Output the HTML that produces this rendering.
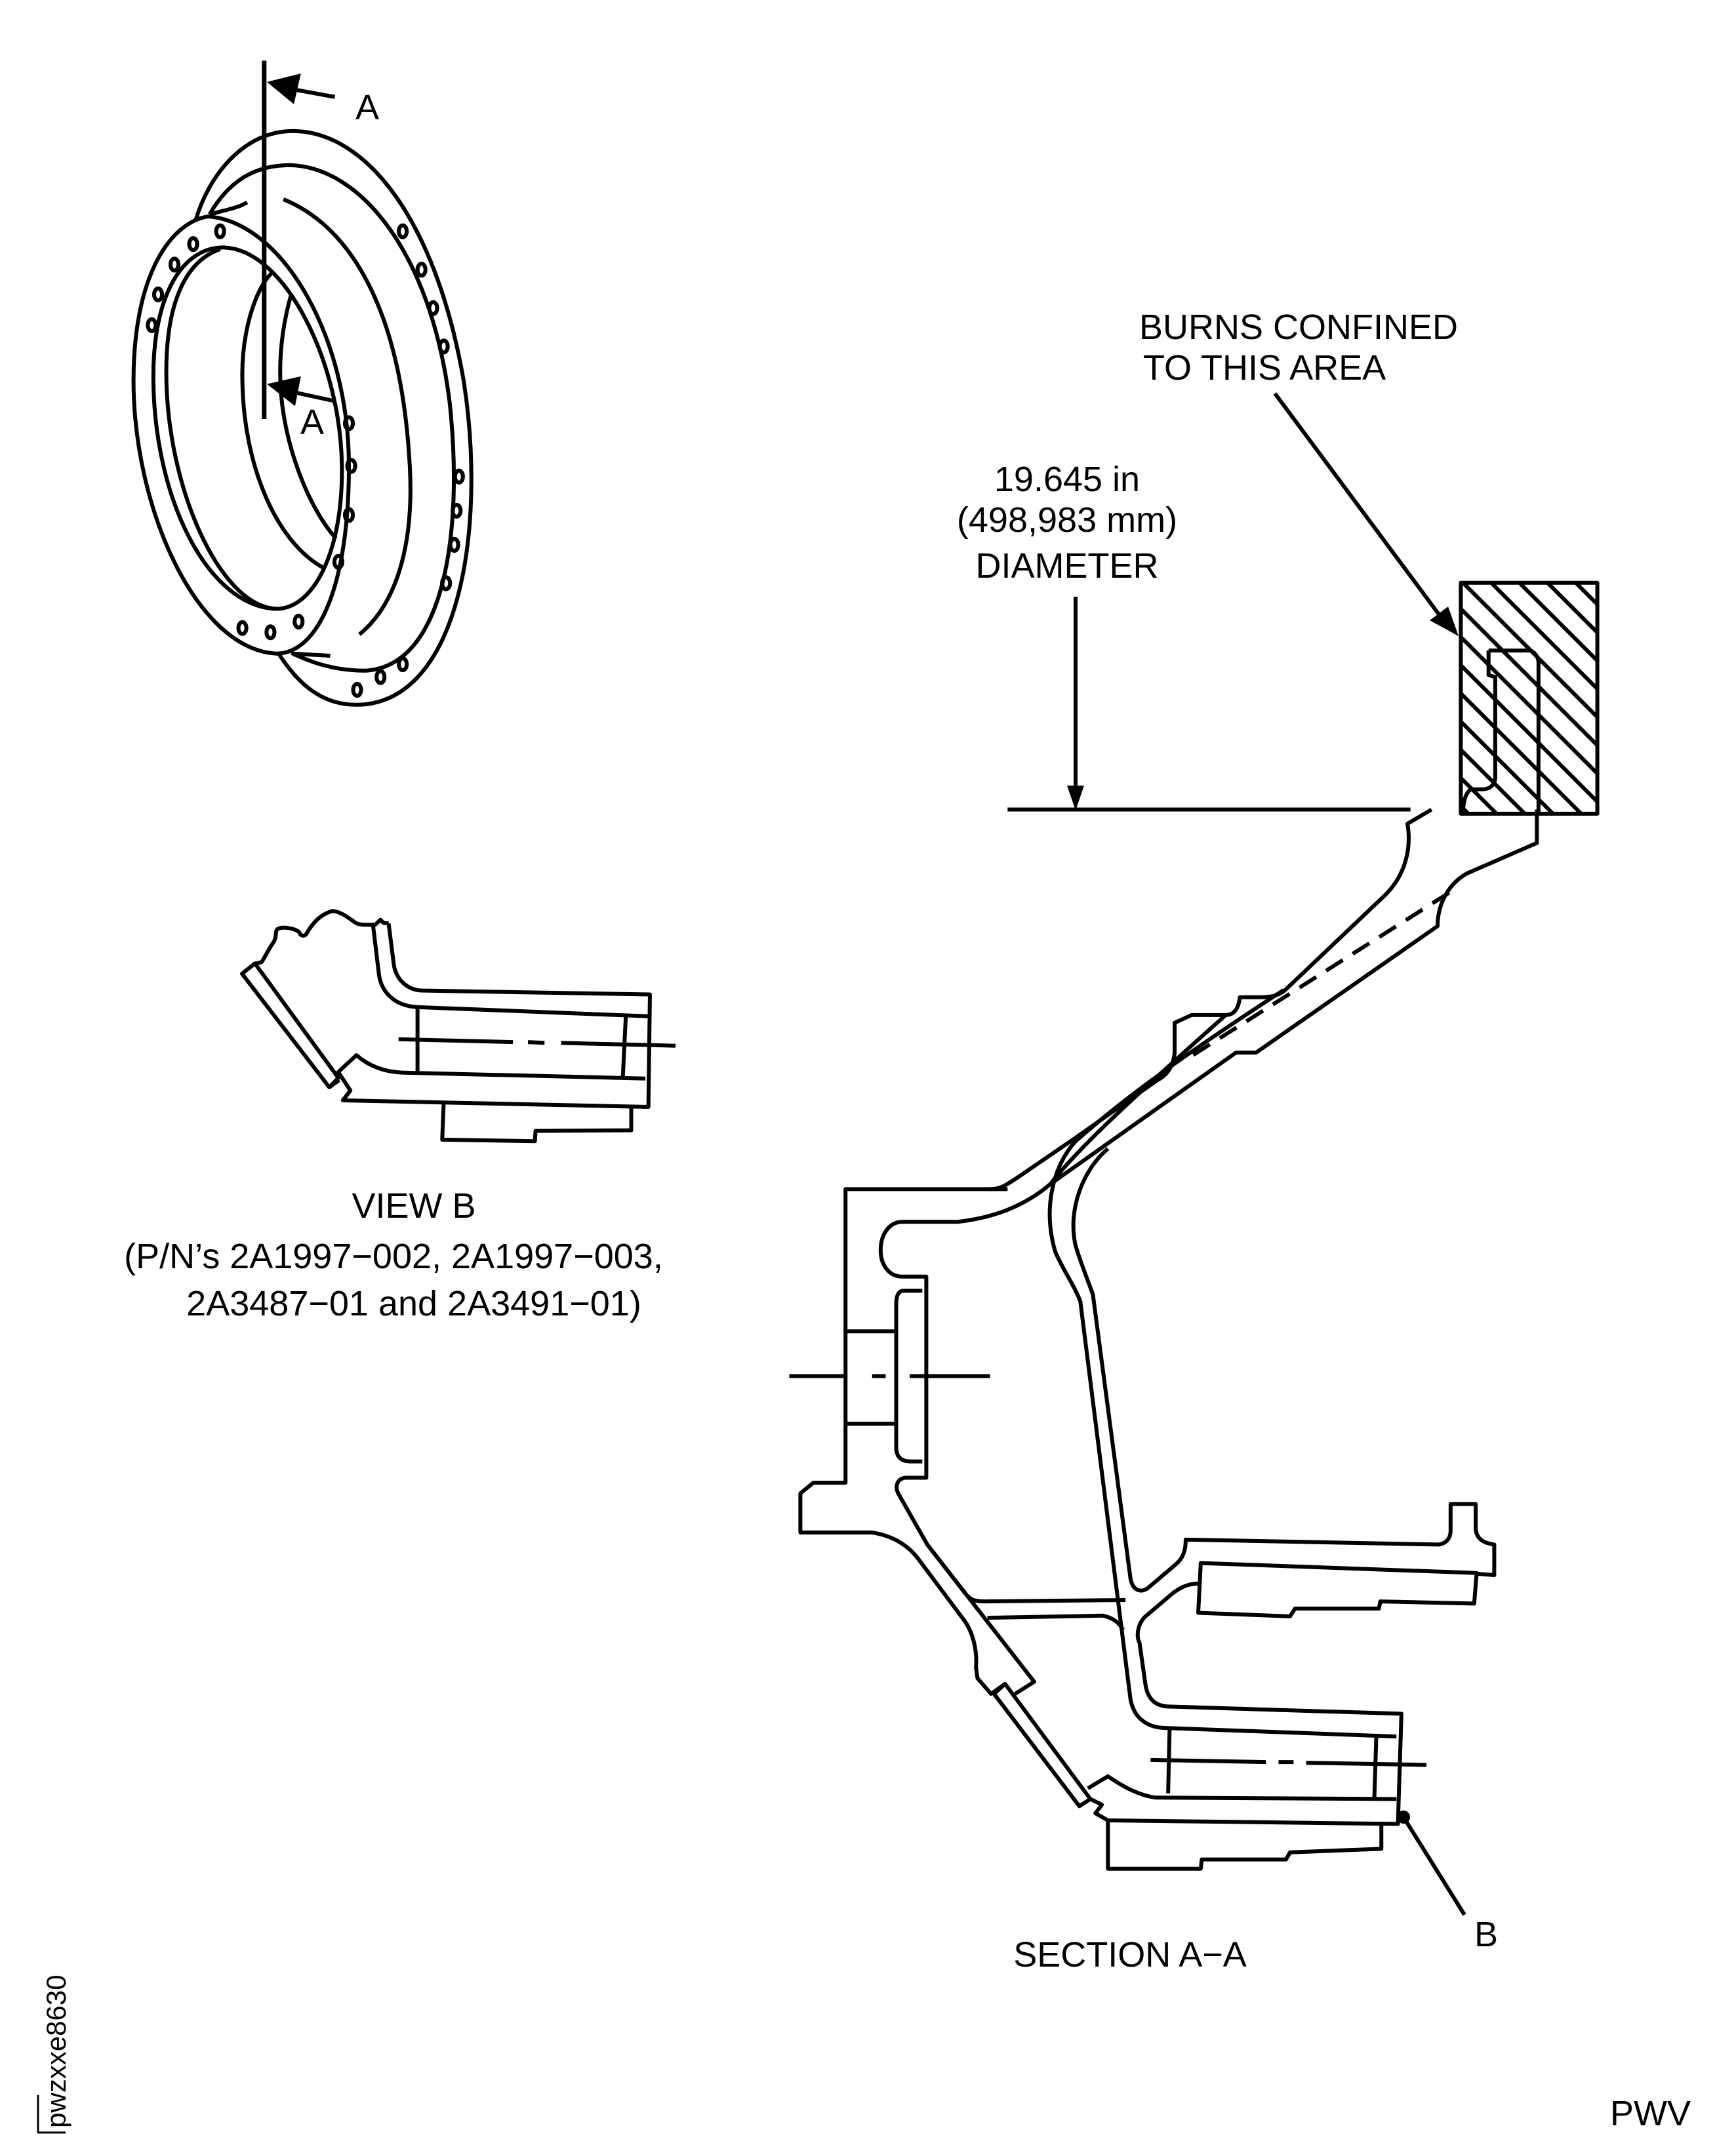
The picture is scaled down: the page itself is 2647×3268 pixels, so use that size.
<!DOCTYPE html>
<html><head><meta charset="utf-8">
<style>
html,body{margin:0;padding:0;background:#fff;}
svg{display:block;}
text{font-family:"Liberation Sans",Arial,sans-serif;fill:#000;}
</style></head>
<body>
<svg width="2647" height="3268" viewBox="0 0 2647 3268" xmlns="http://www.w3.org/2000/svg">
<defs>
<clipPath id="boxclip"><rect x="140" y="85" width="615" height="1040"/></clipPath>
</defs>
<g fill="none" stroke="#000" stroke-width="6" stroke-linejoin="round">

<g transform="translate(200,60) scale(0.357,0.6505)">
<path vector-effect="non-scaling-stroke" d="M275,425 C330,320 480,215 690,215 C1000,215 1300,420 1420,800 C1520,1150 1400,1560 960,1560 C800,1560 700,1500 630,1440"/>
<path vector-effect="non-scaling-stroke" d="M335,410 C420,330 530,295 680,295 C980,300 1280,500 1360,850 C1420,1150 1340,1470 1000,1480 C850,1480 750,1455 690,1440 L850,1445"/>
<path vector-effect="non-scaling-stroke" d="M650,375 C900,430 1150,600 1190,1000 C1210,1200 1120,1330 975,1395"/>
<path vector-effect="non-scaling-stroke" d="M330,415 C160,430 10,560 10,800 C10,1100 280,1430 620,1440 C800,1440 930,1280 930,1000 C930,700 650,430 330,415 Z"/>
<path vector-effect="non-scaling-stroke" d="M400,488 C220,485 90,600 95,800 C100,1080 330,1330 620,1335 C780,1335 905,1200 900,1000 C895,760 660,495 400,488 Z"/>
<path vector-effect="non-scaling-stroke" d="M380,492 C230,520 150,620 150,780 C150,1050 380,1330 620,1335"/>
<path vector-effect="non-scaling-stroke" d="M605,545 C520,590 470,700 475,800 C480,1000 620,1180 825,1240"/>
<path vector-effect="non-scaling-stroke" d="M685,595 C640,680 630,760 640,830 C660,960 760,1100 875,1170"/>
<path vector-effect="non-scaling-stroke" d="M340,410 C400,400 460,395 495,382"/>
<g>
<ellipse vector-effect="non-scaling-stroke" cx="380" cy="450" rx="17" ry="14"/>
<ellipse vector-effect="non-scaling-stroke" cx="265" cy="480" rx="17" ry="14"/>
<ellipse vector-effect="non-scaling-stroke" cx="185" cy="528" rx="17" ry="14"/>
<ellipse vector-effect="non-scaling-stroke" cx="115" cy="598" rx="17" ry="14"/>
<ellipse vector-effect="non-scaling-stroke" cx="88" cy="670" rx="17" ry="14"/>
<ellipse vector-effect="non-scaling-stroke" cx="930" cy="900" rx="17" ry="14"/>
<ellipse vector-effect="non-scaling-stroke" cx="940" cy="1000" rx="17" ry="14"/>
<ellipse vector-effect="non-scaling-stroke" cx="930" cy="1115" rx="17" ry="14"/>
<ellipse vector-effect="non-scaling-stroke" cx="885" cy="1225" rx="17" ry="14"/>
<ellipse vector-effect="non-scaling-stroke" cx="475" cy="1380" rx="17" ry="14"/>
<ellipse vector-effect="non-scaling-stroke" cx="595" cy="1390" rx="17" ry="14"/>
<ellipse vector-effect="non-scaling-stroke" cx="715" cy="1365" rx="17" ry="14"/>
<ellipse vector-effect="non-scaling-stroke" cx="1160" cy="450" rx="17" ry="14"/>
<ellipse vector-effect="non-scaling-stroke" cx="1240" cy="540" rx="17" ry="14"/>
<ellipse vector-effect="non-scaling-stroke" cx="1290" cy="630" rx="17" ry="14"/>
<ellipse vector-effect="non-scaling-stroke" cx="1335" cy="720" rx="17" ry="14"/>
<ellipse vector-effect="non-scaling-stroke" cx="1400" cy="1025" rx="17" ry="14"/>
<ellipse vector-effect="non-scaling-stroke" cx="1390" cy="1105" rx="17" ry="14"/>
<ellipse vector-effect="non-scaling-stroke" cx="1380" cy="1185" rx="17" ry="14"/>
<ellipse vector-effect="non-scaling-stroke" cx="1345" cy="1275" rx="17" ry="14"/>
<ellipse vector-effect="non-scaling-stroke" cx="965" cy="1525" rx="17" ry="14"/>
<ellipse vector-effect="non-scaling-stroke" cx="1065" cy="1495" rx="17" ry="14"/>
<ellipse vector-effect="non-scaling-stroke" cx="1160" cy="1465" rx="17" ry="14"/>
</g>
<path vector-effect="non-scaling-stroke" d="M568,50 L568,890" stroke-width="7"/>
<path vector-effect="non-scaling-stroke" d="M700,118 L870,135"/>
<path vector-effect="non-scaling-stroke" d="M700,828 L870,848"/>
<path d="M580,100 L725,80 L695,152 Z" fill="#000" stroke="none"/>
<path d="M580,808 L725,790 L700,860 Z" fill="#000" stroke="none"/>
</g>

<g transform="translate(330,1350) scale(0.459,0.333)">
<path vector-effect="non-scaling-stroke" d="M125,360 L150,352 C165,320 170,300 190,260 C200,240 195,220 200,205 C210,185 260,195 275,215 C280,235 295,235 300,220 C320,170 350,130 385,118 C410,118 440,150 460,170 C475,185 500,180 528,180 L545,158 L555,172 L572,175"/>
<path vector-effect="non-scaling-stroke" d="M85,405 L128,358 L405,882 L375,925 Z"/>
<path vector-effect="non-scaling-stroke" d="M520,180 L540,410 C550,500 600,555 670,558 L1435,600"/>
<path vector-effect="non-scaling-stroke" d="M572,175 L590,370 C600,440 640,480 680,482 L1440,500 L1435,1015 L420,985 L445,940 L405,855 L465,778 C500,820 550,855 620,858 L1425,885"/>
<path vector-effect="non-scaling-stroke" d="M375,925 L408,892"/>
<path vector-effect="non-scaling-stroke" d="M668,565 L668,858 M1360,598 L1350,880"/>
<path vector-effect="non-scaling-stroke" d="M605,705 L985,718 M1035,718 L1090,722 M1145,722 L1525,735"/>
<path vector-effect="non-scaling-stroke" d="M755,995 L750,1165 L1058,1172 L1060,1125 L1378,1122 L1378,1012"/>
</g>

<g transform="translate(2180,860) scale(0.3385,0.3385)">
<rect vector-effect="non-scaling-stroke" x="140" y="85" width="615" height="1040"/>
<g clip-path="url(#boxclip)">
<path vector-effect="non-scaling-stroke" d="M-866,85 L174,1125 M-739,85 L301,1125 M-612,85 L428,1125 M-485,85 L555,1125 M-358,85 L682,1125 M-231,85 L809,1125 M-104,85 L936,1125 M23,85 L1063,1125 M150,85 L1190,1125 M277,85 L1317,1125 M404,85 L1444,1125 M531,85 L1571,1125 M658,85 L1698,1125"/>
</g>
<path vector-effect="non-scaling-stroke" d="M265,390 L455,390 C475,400 490,420 490,445 L490,1125"/>
<path vector-effect="non-scaling-stroke" d="M265,390 L265,500 L295,510 L295,960 C295,995 270,1015 240,1015 L185,1015 C165,1030 150,1060 150,1125"/>
</g>

<g transform="translate(1150,1150) scale(0.765,1.084)">
<path vector-effect="non-scaling-stroke" d="M1350,78 L1302,98 C1310,130 1300,170 1255,200 L1058,332 C1045,340 1030,342 1010,342 L968,342 C965,360 955,367 940,367 L872,367 L838,378 L838,420 C835,440 822,452 805,458 L640,540 L520,598 C500,607 490,612 470,612"/>
<path vector-effect="non-scaling-stroke" d="M505,612 L182,612 L182,1025 L118,1025 L92,1040 L92,1095 L235,1095 C280,1100 310,1115 330,1135 L420,1220 C435,1235 445,1260 442,1285 L445,1300 L472,1322 L500,1308"/>
<path vector-effect="non-scaling-stroke" d="M520,1322 L558,1305 L345,1112 L287,1040 C280,1030 285,1020 300,1018 L343,1018 L343,735 L295,735 C268,735 252,718 252,698 C252,675 270,658 295,658 L405,658 C480,652 540,635 590,605 L960,420 L1000,420 L1362,242 C1362,210 1385,182 1420,168 L1560,125 L1560,78"/>
<path vector-effect="non-scaling-stroke" d="M478,1322 L648,1480 L670,1470 L500,1308 Z"/>
<path vector-effect="non-scaling-stroke" d="M665,1455 L705,1438 C740,1455 770,1465 800,1468 L1280,1470"/>
<path vector-effect="non-scaling-stroke" d="M670,1470 L693,1478 L680,1490 L705,1500 L1283,1505 L1290,1350 L830,1340 C800,1340 785,1330 780,1310 L768,1250 C760,1240 765,1220 785,1210 L835,1180 C845,1175 860,1167 885,1167"/>
<path vector-effect="non-scaling-stroke" d="M335,755 L295,755 C285,757 283,765 283,775 L283,975 C283,990 295,995 310,995 L335,995"/>
<path vector-effect="non-scaling-stroke" d="M183,812 L283,812 M183,942 L283,942"/>
<path vector-effect="non-scaling-stroke" d="M70,875 L180,875 M235,875 L262,875 M310,875 L470,875"/>
<path vector-effect="non-scaling-stroke" d="M345,1112 L420,1180 C430,1190 440,1192 460,1192 L740,1190"/>
<path vector-effect="non-scaling-stroke" d="M465,1215 L695,1212 C715,1215 728,1222 735,1232"/>
<path vector-effect="non-scaling-stroke" d="M640,545 C595,580 575,640 600,700 C615,725 640,750 650,770 L750,1330 C758,1360 790,1370 820,1370 L1280,1382"/>
<path vector-effect="non-scaling-stroke" d="M705,555 C655,585 625,640 640,690 C650,715 665,740 675,760 L750,1160 C755,1178 772,1180 785,1173 L840,1140 C857,1130 860,1118 860,1105 L1365,1112 C1380,1110 1388,1103 1388,1092 L1388,1055 L1438,1055 L1438,1090 C1440,1105 1455,1110 1475,1112 L1475,1155 L1440,1153"/>
<path vector-effect="non-scaling-stroke" d="M890,1138 L1440,1152 L1435,1195 L1248,1192 L1245,1202 L1078,1202 L1068,1213 L885,1208 Z"/>
<path vector-effect="non-scaling-stroke" d="M590,605 C640,560 720,505 940,367"/>
<path vector-effect="non-scaling-stroke" d="M640,545 C720,495 820,440 1055,332"/>
<path vector-effect="non-scaling-stroke" d="M1385,195 L860,430" stroke-dasharray="30,18"/>
<path vector-effect="non-scaling-stroke" d="M828,1370 L825,1462 M1240,1380 L1236,1468"/>
<path vector-effect="non-scaling-stroke" d="M790,1415 L1020,1418 M1045,1418 L1075,1418 M1100,1419 L1340,1422"/>
<path vector-effect="non-scaling-stroke" d="M705,1500 L705,1568 L890,1568 L892,1555 L1060,1555 L1068,1545 L1250,1540 L1250,1505"/>
<path vector-effect="non-scaling-stroke" d="M505,78 L1308,78"/>
</g>

<path d="M1640,910 L1640,1205"/>
<path d="M1627,1198 L1653,1198 L1640,1236 Z" fill="#000" stroke="none"/>
<path d="M1944,600 L2200,945"/>
<path d="M2224,970 L2180,946 L2208,925 Z" fill="#000" stroke="none"/>
<circle cx="2140" cy="2771" r="10" fill="#000" stroke="none"/>
<path d="M2140,2771 L2233,2920"/>
<path d="M58,3195 L58,3252 L100,3252" stroke-width="3"/>
</g>

<g font-size="54">
<text x="542" y="182">A</text>
<text x="458" y="662">A</text>
<text x="1737" y="517">BURNS CONFINED</text>
<text x="1743" y="579">TO THIS AREA</text>
<text x="1627" y="749" text-anchor="middle">19.645 in</text>
<text x="1627" y="811" text-anchor="middle">(498,983 mm)</text>
<text x="1627" y="881" text-anchor="middle">DIAMETER</text>
<text x="631" y="1857" text-anchor="middle">VIEW B</text>
<text x="600" y="1934" text-anchor="middle">(P/N’s 2A1997−002, 2A1997−003,</text>
<text x="631" y="2006" text-anchor="middle">2A3487−01 and 2A3491−01)</text>
<text x="1723" y="2999" text-anchor="middle">SECTION A−A</text>
<text x="2248" y="2968">B</text>
<text x="2455" y="3241">PWV</text>
</g>
<text x="0" y="0" font-size="42" transform="translate(100,3245) rotate(-90)">pwzxxe8630</text>
</svg>
</body></html>
